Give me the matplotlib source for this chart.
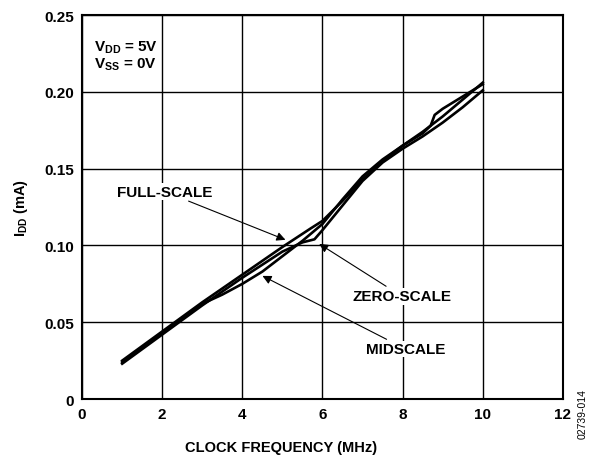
import matplotlib
matplotlib.use("Agg")
import matplotlib.pyplot as plt

plt.rcParams['font.family'] = ['Liberation Sans', 'DejaVu Sans']
plt.rcParams['mathtext.fontset'] = 'custom'
plt.rcParams['mathtext.rm'] = 'Liberation Sans:bold'
plt.rcParams['mathtext.bf'] = 'Liberation Sans:bold'
plt.rcParams['mathtext.it'] = 'Liberation Sans:bold'

# Supply current vs clock frequency, three code settings
full_x = [1, 2, 3, 4, 5, 5.7, 6, 6.5, 7, 7.5, 8, 8.5, 9, 9.5, 10]
full_y = [0.025, 0.044, 0.063, 0.081, 0.099, 0.111, 0.116, 0.129, 0.143,
          0.155, 0.165, 0.174, 0.184, 0.195, 0.206]

mid_x = [1, 2, 3, 3.5, 4, 4.5, 5, 5.5, 6, 6.5, 7, 7.5, 8, 8.5, 8.7, 8.8, 9, 9.5, 10]
mid_y = [0.024, 0.043, 0.062, 0.068, 0.075, 0.083, 0.093, 0.103, 0.114, 0.130,
         0.145, 0.156, 0.165, 0.173, 0.178, 0.185, 0.189, 0.197, 0.205]

zero_x = [1, 2, 3, 4, 5, 5.5, 5.8, 6, 6.5, 7, 7.5, 8, 8.5, 9, 9.5, 10]
zero_y = [0.023, 0.042, 0.061, 0.079, 0.096, 0.102, 0.104, 0.110, 0.126,
          0.142, 0.154, 0.163, 0.171, 0.180, 0.190, 0.201]

x_ticks = [0, 2, 4, 6, 8, 10, 12]
y_ticks = [0, 0.05, 0.10, 0.15, 0.20, 0.25]
y_labels = ["0", "0.05", "0.10", "0.15", "0.20", "0.25"]

fig = plt.figure(figsize=(5.95, 4.6), dpi=100)
ax = fig.add_axes([0.138, 0.1304, 0.808, 0.8346])

for xs, ys in [(full_x, full_y), (mid_x, mid_y), (zero_x, zero_y)]:
    ax.plot(xs, ys, color="black", lw=1.9, zorder=3)

ax.set_xlim(0, 12)
ax.set_ylim(0, 0.25)
ax.set_xticks(x_ticks)
ax.set_yticks(y_ticks)
ax.set_yticklabels(y_labels)
ax.grid(True, color="black", lw=1.0)
ax.tick_params(length=0, pad=6, labelsize=11)
for lab in ax.get_xticklabels() + ax.get_yticklabels():
    lab.set_fontweight("bold")
for s in ax.spines.values():
    s.set_linewidth(1.5)

ax.set_xlabel("CLOCK FREQUENCY (MHz)", fontsize=10.5, fontweight="bold", labelpad=14)
ax.xaxis.set_label_coords(0.414, -0.108)
ax.set_ylabel(r"$\mathregular{I_{DD}}$ (mA)", fontsize=10.5, fontweight="bold", labelpad=10)

ax.text(0.3, 0.235, r"$\mathregular{V_{DD}}$ = 5V" + "\n" + r"$\mathregular{V_{SS}}$ = 0V",
        fontsize=11, fontweight="bold", va="top", ha="left", linespacing=1.05,
        bbox=dict(facecolor="white", edgecolor="none", pad=1))

arrow = dict(arrowstyle="-|>", color="black", lw=0.8, mutation_scale=13)
box = dict(facecolor="white", edgecolor="none", pad=1)
ax.annotate("FULL-SCALE", xy=(5.14, 0.103), xytext=(0.88, 0.135), fontsize=11,
            fontweight="bold", va="center", ha="left", arrowprops=arrow, bbox=box)
ax.annotate("ZERO-SCALE", xy=(5.86, 0.102), xytext=(6.74, 0.067), fontsize=11,
            fontweight="bold", va="center", ha="left", arrowprops=arrow, bbox=box)
ax.annotate("MIDSCALE", xy=(4.44, 0.081), xytext=(7.08, 0.0326), fontsize=11,
            fontweight="bold", va="center", ha="left", arrowprops=arrow, bbox=box)

fig.text(0.98, 0.1, "02739-014", rotation=90, fontsize=7.5, ha="center", va="center")

fig.savefig("out.png", dpi=100)
